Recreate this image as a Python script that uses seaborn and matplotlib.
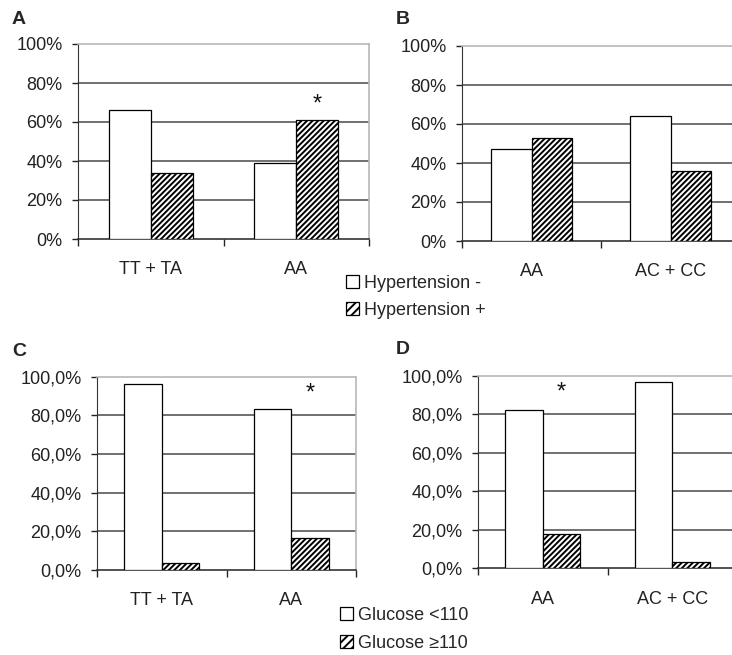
import pandas as pd
import seaborn as sns
from matplotlib import pyplot as plt
from matplotlib.patches import Patch

# panel A / B: hypertension
cats_a = ['TT + TA', 'AA']
htn_neg_a = [66, 39]
htn_pos_a = [34, 61]

cats_b = ['AA', 'AC + CC']
htn_neg_b = [47, 64]
htn_pos_b = [53, 36]

# panel C / D: glucose
cats_c = ['TT + TA', 'AA']
glu_low_c = [96.3, 83.3]
glu_high_c = [3.7, 16.7]

cats_d = ['AA', 'AC + CC']
glu_low_d = [82.3, 96.8]
glu_high_d = [17.7, 3.2]

htn_labels = ['Hypertension -', 'Hypertension +']
glu_labels = ['Glucose <110', 'Glucose \u2265110']

yticks_pct = ['0%', '20%', '40%', '60%', '80%', '100%']
yticks_dec = ['0,0%', '20,0%', '40,0%', '60,0%', '80,0%', '100,0%']


def make_df(cats, first, second, labels):
    rows = []
    for c, v in zip(cats, first):
        rows.append((c, labels[0], v))
    for c, v in zip(cats, second):
        rows.append((c, labels[1], v))
    return pd.DataFrame(rows, columns=('genotype', 'group', 'value'))


sns.set_style("white")
plt.rcParams['font.family'] = ['Liberation Sans', 'DejaVu Sans']
plt.rcParams['hatch.linewidth'] = 1.4
plt.rcParams['hatch.color'] = 'black'

W, H = 732, 655
fig = plt.figure(figsize=(W / 100, H / 100), dpi=100)


def px_axes(left, right, top, bottom):
    return fig.add_axes([left / W, 1 - bottom / H, (right - left) / W, (bottom - top) / H])


def draw(ax, df, labels, yticklabels, star_idx=None, star_y=None):
    sns.barplot(data=df, x='genotype', y='value', hue='group', hue_order=labels,
                palette=['white', 'white'], width=0.58, edgecolor='black', linewidth=0.9,
                legend=False, ax=ax, zorder=3)
    for bar in ax.containers[1]:
        bar.set_hatch('//////')
    ax.set_ylim(0, 100)
    ax.set_xlim(-0.5, 1.5)
    ax.set_yticks([0, 20, 40, 60, 80, 100])
    ax.set_yticklabels(yticklabels)
    for y in [20, 40, 60, 80]:
        ax.axhline(y, color='#707070', lw=1.4, zorder=1)
    ax.set_xlabel('')
    ax.set_ylabel('')
    ax.tick_params(axis='y', length=4, width=1, pad=7, labelsize=13, colors='#222222', left=True)
    ax.tick_params(axis='x', which='major', length=0, pad=16, labelsize=13, colors='#222222')
    ax.set_xticks([-0.5, 0.5, 1.5], minor=True)
    ax.tick_params(axis='x', which='minor', length=5, width=1, bottom=True, direction='out')
    for s in ['top', 'right']:
        ax.spines[s].set_color('#b8b8b8')
        ax.spines[s].set_linewidth(1.2)
    ax.spines['left'].set_color('#333333')
    ax.spines['bottom'].set_color('#333333')
    ax.spines['bottom'].set_linewidth(1.2)
    if star_idx is not None:
        # asterisk above the hatched bar of the significant genotype
        ax.text(star_idx + 0.145, star_y, '*', ha='center', va='center', fontsize=17, color='#111111')


ax_a = px_axes(78, 369, 44, 239)
draw(ax_a, make_df(cats_a, htn_neg_a, htn_pos_a, htn_labels), htn_labels, yticks_pct, 1, 69)

ax_b = px_axes(462, 740, 46, 241)
draw(ax_b, make_df(cats_b, htn_neg_b, htn_pos_b, htn_labels), htn_labels, yticks_pct)

ax_c = px_axes(97, 356, 376.7, 570)
draw(ax_c, make_df(cats_c, glu_low_c, glu_high_c, glu_labels), glu_labels, yticks_dec, 1, 91.5)

ax_d = px_axes(478, 737, 376, 568.3)
draw(ax_d, make_df(cats_d, glu_low_d, glu_high_d, glu_labels), glu_labels, yticks_dec, 0, 91.5)


def legend_at(labels, x, y, spacing):
    handles = [Patch(facecolor='white', edgecolor='black', lw=0.9),
               Patch(facecolor='white', edgecolor='black', lw=0.9, hatch='////')]
    fig.legend(handles, labels, loc='upper left', bbox_to_anchor=(x / W, 1 - y / H),
               frameon=False, fontsize=13, handlelength=0.7, handleheight=0.7,
               handletextpad=0.3, labelspacing=spacing, borderpad=0, borderaxespad=0)


legend_at(htn_labels, 346, 275, 0.55)
legend_at(glu_labels, 340, 607, 0.6)

for letter, x, y in [('A', 12, 20), ('B', 396, 20), ('C', 12, 351), ('D', 396, 350)]:
    fig.text(x / W, 1 - y / H, letter, fontsize=14, fontweight='bold', ha='left', va='center')

fig.savefig('out.png', dpi=100)
